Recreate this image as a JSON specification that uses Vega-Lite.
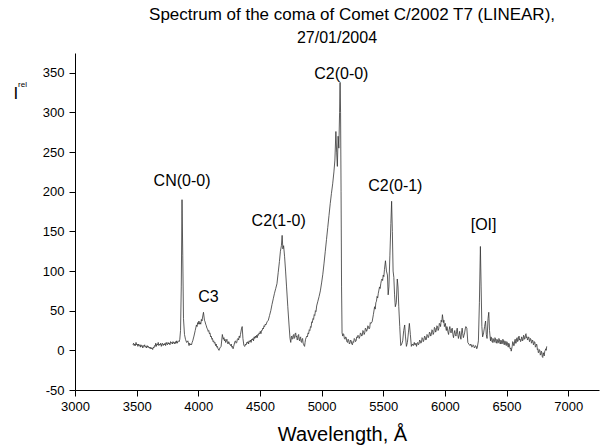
{
  "$schema": "https://vega.github.io/schema/vega-lite/v6.json",
  "autosize": "none",
  "width": 524,
  "height": 337,
  "padding": {"left": 75, "top": 53, "right": 3, "bottom": 57},
  "background": "white",
  "config": {
    "view": {"stroke": null},
    "font": "Liberation Sans",
    "axis": {"grid": false, "domainColor": "black", "tickColor": "black", "labelColor": "black", "titleColor": "black", "labelFont": "Liberation Sans", "titleFont": "Liberation Sans", "titleFontWeight": "normal", "labelFontSize": 13, "domainWidth": 1, "tickWidth": 1}
  },
  "datasets": {
    "spec": [
      {"w":3470,"i":7},{"w":3475,"i":9},{"w":3480,"i":6},{"w":3485,"i":8},{"w":3490,"i":6},{"w":3495,"i":10},{"w":3500,"i":7},{"w":3505,"i":8},{"w":3510,"i":5},{"w":3515,"i":8},{"w":3520,"i":6},{"w":3525,"i":7},{"w":3530,"i":4},{"w":3535,"i":7},{"w":3540,"i":5},{"w":3545,"i":6},{"w":3550,"i":3},{"w":3555,"i":6},{"w":3560,"i":5},{"w":3565,"i":7},{"w":3570,"i":4},{"w":3575,"i":5},{"w":3580,"i":3},{"w":3585,"i":6},{"w":3590,"i":4},{"w":3595,"i":5},{"w":3600,"i":3},{"w":3605,"i":4},{"w":3610,"i":2},{"w":3615,"i":4},{"w":3620,"i":2},{"w":3625,"i":3},{"w":3630,"i":1},{"w":3635,"i":4},{"w":3640,"i":3},{"w":3645,"i":6},{"w":3650,"i":5},{"w":3655,"i":9},{"w":3660,"i":5},{"w":3665,"i":8},{"w":3670,"i":7},{"w":3675,"i":10},{"w":3680,"i":6},{"w":3685,"i":8},{"w":3690,"i":7},{"w":3695,"i":9},{"w":3700,"i":5},{"w":3705,"i":8},{"w":3710,"i":9},{"w":3715,"i":6},{"w":3720,"i":8},{"w":3725,"i":7},{"w":3730,"i":9},{"w":3735,"i":6},{"w":3740,"i":10},{"w":3745,"i":8},{"w":3750,"i":7},{"w":3755,"i":10},{"w":3760,"i":8},{"w":3765,"i":9},{"w":3770,"i":7},{"w":3775,"i":11},{"w":3780,"i":9},{"w":3785,"i":10},{"w":3790,"i":8},{"w":3795,"i":11},{"w":3800,"i":9},{"w":3805,"i":10},{"w":3810,"i":8},{"w":3815,"i":11},{"w":3820,"i":9},{"w":3825,"i":12},{"w":3830,"i":9},{"w":3835,"i":11},{"w":3840,"i":12},{"w":3845,"i":11},{"w":3850,"i":14},{"w":3856,"i":25},{"w":3862,"i":80},{"w":3868,"i":190},{"w":3874,"i":120},{"w":3880,"i":40},{"w":3888,"i":20},{"w":3896,"i":14},{"w":3905,"i":10},{"w":3915,"i":12},{"w":3925,"i":6},{"w":3930,"i":9},{"w":3935,"i":7},{"w":3940,"i":8},{"w":3945,"i":7},{"w":3950,"i":10},{"w":3955,"i":12},{"w":3965,"i":18},{"w":3975,"i":25},{"w":3985,"i":32},{"w":3990,"i":30},{"w":3995,"i":35},{"w":4000,"i":33},{"w":4005,"i":37},{"w":4010,"i":33},{"w":4015,"i":35},{"w":4020,"i":33},{"w":4025,"i":39},{"w":4030,"i":37},{"w":4035,"i":42},{"w":4042,"i":48},{"w":4050,"i":38},{"w":4055,"i":36},{"w":4060,"i":33},{"w":4065,"i":31},{"w":4070,"i":28},{"w":4075,"i":27},{"w":4080,"i":24},{"w":4085,"i":25},{"w":4090,"i":21},{"w":4095,"i":22},{"w":4100,"i":17},{"w":4105,"i":18},{"w":4110,"i":14},{"w":4115,"i":15},{"w":4120,"i":11},{"w":4125,"i":12},{"w":4130,"i":9},{"w":4135,"i":10},{"w":4140,"i":6},{"w":4145,"i":8},{"w":4150,"i":4},{"w":4155,"i":5},{"w":4160,"i":2},{"w":4168,"i":0},{"w":4175,"i":3},{"w":4185,"i":5},{"w":4195,"i":20},{"w":4203,"i":14},{"w":4208,"i":16},{"w":4212,"i":12},{"w":4217,"i":14},{"w":4222,"i":10},{"w":4227,"i":12},{"w":4232,"i":14},{"w":4237,"i":9},{"w":4242,"i":8},{"w":4247,"i":11},{"w":4252,"i":9},{"w":4257,"i":7},{"w":4262,"i":6},{"w":4267,"i":8},{"w":4272,"i":4},{"w":4277,"i":5},{"w":4282,"i":2},{"w":4287,"i":5},{"w":4292,"i":8},{"w":4297,"i":11},{"w":4302,"i":12},{"w":4307,"i":9},{"w":4312,"i":10},{"w":4317,"i":14},{"w":4322,"i":15},{"w":4327,"i":13},{"w":4332,"i":18},{"w":4337,"i":16},{"w":4342,"i":20},{"w":4350,"i":27},{"w":4356,"i":30},{"w":4362,"i":15},{"w":4370,"i":6},{"w":4378,"i":5},{"w":4383,"i":8},{"w":4388,"i":7},{"w":4393,"i":10},{"w":4398,"i":9},{"w":4403,"i":11},{"w":4408,"i":8},{"w":4413,"i":12},{"w":4418,"i":11},{"w":4423,"i":13},{"w":4428,"i":10},{"w":4433,"i":14},{"w":4438,"i":13},{"w":4443,"i":15},{"w":4448,"i":12},{"w":4453,"i":17},{"w":4458,"i":15},{"w":4463,"i":18},{"w":4468,"i":16},{"w":4473,"i":19},{"w":4478,"i":16},{"w":4483,"i":20},{"w":4488,"i":19},{"w":4493,"i":22},{"w":4498,"i":21},{"w":4503,"i":24},{"w":4508,"i":21},{"w":4513,"i":25},{"w":4518,"i":25},{"w":4523,"i":28},{"w":4528,"i":27},{"w":4533,"i":31},{"w":4538,"i":30},{"w":4543,"i":33},{"w":4548,"i":32},{"w":4558,"i":36},{"w":4568,"i":38},{"w":4578,"i":44},{"w":4588,"i":50},{"w":4598,"i":58},{"w":4608,"i":65},{"w":4618,"i":72},{"w":4628,"i":78},{"w":4638,"i":84},{"w":4648,"i":98},{"w":4658,"i":112},{"w":4666,"i":125},{"w":4674,"i":132},{"w":4680,"i":145},{"w":4686,"i":128},{"w":4692,"i":132},{"w":4700,"i":118},{"w":4708,"i":100},{"w":4716,"i":80},{"w":4726,"i":55},{"w":4736,"i":32},{"w":4744,"i":15},{"w":4750,"i":10},{"w":4754,"i":16},{"w":4758,"i":18},{"w":4762,"i":14},{"w":4766,"i":15},{"w":4770,"i":19},{"w":4774,"i":20},{"w":4778,"i":15},{"w":4782,"i":16},{"w":4786,"i":21},{"w":4790,"i":22},{"w":4794,"i":17},{"w":4798,"i":18},{"w":4802,"i":13},{"w":4806,"i":14},{"w":4810,"i":19},{"w":4814,"i":20},{"w":4818,"i":13},{"w":4822,"i":12},{"w":4826,"i":16},{"w":4830,"i":17},{"w":4834,"i":11},{"w":4838,"i":10},{"w":4842,"i":14},{"w":4846,"i":15},{"w":4850,"i":9},{"w":4854,"i":8},{"w":4858,"i":6},{"w":4862,"i":5},{"w":4866,"i":10},{"w":4870,"i":14},{"w":4875,"i":16},{"w":4880,"i":18},{"w":4885,"i":17},{"w":4890,"i":22},{"w":4895,"i":21},{"w":4900,"i":26},{"w":4905,"i":25},{"w":4910,"i":30},{"w":4915,"i":29},{"w":4920,"i":36},{"w":4925,"i":35},{"w":4930,"i":40},{"w":4935,"i":39},{"w":4940,"i":45},{"w":4945,"i":44},{"w":4950,"i":50},{"w":4955,"i":49},{"w":4960,"i":56},{"w":4970,"i":62},{"w":4980,"i":68},{"w":4990,"i":75},{"w":5000,"i":85},{"w":5010,"i":96},{"w":5020,"i":110},{"w":5030,"i":125},{"w":5040,"i":140},{"w":5050,"i":155},{"w":5060,"i":170},{"w":5070,"i":185},{"w":5080,"i":198},{"w":5090,"i":210},{"w":5100,"i":225},{"w":5108,"i":240},{"w":5116,"i":276},{"w":5122,"i":250},{"w":5128,"i":232},{"w":5134,"i":270},{"w":5140,"i":255},{"w":5146,"i":300},{"w":5150,"i":338},{"w":5154,"i":300},{"w":5158,"i":200},{"w":5162,"i":80},{"w":5166,"i":22},{"w":5172,"i":18},{"w":5176,"i":21},{"w":5180,"i":20},{"w":5185,"i":15},{"w":5190,"i":14},{"w":5195,"i":17},{"w":5200,"i":16},{"w":5205,"i":11},{"w":5210,"i":10},{"w":5215,"i":14},{"w":5220,"i":13},{"w":5225,"i":8},{"w":5230,"i":9},{"w":5235,"i":13},{"w":5240,"i":12},{"w":5245,"i":8},{"w":5250,"i":7},{"w":5255,"i":11},{"w":5260,"i":10},{"w":5265,"i":15},{"w":5270,"i":14},{"w":5275,"i":11},{"w":5280,"i":12},{"w":5285,"i":17},{"w":5290,"i":16},{"w":5295,"i":19},{"w":5300,"i":18},{"w":5305,"i":15},{"w":5310,"i":17},{"w":5315,"i":22},{"w":5320,"i":21},{"w":5325,"i":18},{"w":5330,"i":19},{"w":5335,"i":25},{"w":5340,"i":24},{"w":5345,"i":20},{"w":5350,"i":22},{"w":5355,"i":28},{"w":5360,"i":27},{"w":5365,"i":24},{"w":5370,"i":26},{"w":5375,"i":31},{"w":5380,"i":30},{"w":5385,"i":27},{"w":5390,"i":28},{"w":5395,"i":35},{"w":5400,"i":34},{"w":5410,"i":36},{"w":5420,"i":45},{"w":5430,"i":55},{"w":5435,"i":52},{"w":5440,"i":60},{"w":5445,"i":62},{"w":5450,"i":68},{"w":5455,"i":66},{"w":5460,"i":72},{"w":5465,"i":76},{"w":5470,"i":80},{"w":5475,"i":78},{"w":5480,"i":84},{"w":5485,"i":88},{"w":5490,"i":90},{"w":5495,"i":88},{"w":5500,"i":95},{"w":5505,"i":93},{"w":5510,"i":102},{"w":5518,"i":113},{"w":5526,"i":100},{"w":5534,"i":95},{"w":5540,"i":70},{"w":5546,"i":80},{"w":5554,"i":120},{"w":5562,"i":160},{"w":5568,"i":188},{"w":5574,"i":150},{"w":5580,"i":100},{"w":5586,"i":92},{"w":5592,"i":70},{"w":5598,"i":55},{"w":5606,"i":60},{"w":5614,"i":90},{"w":5620,"i":80},{"w":5626,"i":55},{"w":5634,"i":30},{"w":5642,"i":6},{"w":5650,"i":8},{"w":5658,"i":12},{"w":5666,"i":25},{"w":5674,"i":32},{"w":5680,"i":18},{"w":5688,"i":5},{"w":5696,"i":10},{"w":5704,"i":22},{"w":5712,"i":34},{"w":5720,"i":20},{"w":5728,"i":5},{"w":5736,"i":8},{"w":5744,"i":6},{"w":5752,"i":10},{"w":5756,"i":7},{"w":5760,"i":7},{"w":5765,"i":9},{"w":5770,"i":5},{"w":5775,"i":9},{"w":5780,"i":10},{"w":5785,"i":7},{"w":5790,"i":8},{"w":5795,"i":13},{"w":5800,"i":12},{"w":5805,"i":9},{"w":5810,"i":10},{"w":5815,"i":16},{"w":5820,"i":15},{"w":5825,"i":11},{"w":5830,"i":13},{"w":5835,"i":18},{"w":5840,"i":17},{"w":5845,"i":13},{"w":5850,"i":14},{"w":5855,"i":20},{"w":5860,"i":19},{"w":5865,"i":16},{"w":5870,"i":18},{"w":5875,"i":23},{"w":5880,"i":22},{"w":5885,"i":18},{"w":5890,"i":20},{"w":5895,"i":26},{"w":5900,"i":25},{"w":5905,"i":20},{"w":5910,"i":22},{"w":5915,"i":29},{"w":5920,"i":28},{"w":5925,"i":23},{"w":5930,"i":25},{"w":5935,"i":31},{"w":5940,"i":30},{"w":5945,"i":25},{"w":5950,"i":27},{"w":5955,"i":34},{"w":5960,"i":33},{"w":5965,"i":30},{"w":5970,"i":38},{"w":5975,"i":36},{"w":5980,"i":45},{"w":5984,"i":40},{"w":5988,"i":35},{"w":5992,"i":38},{"w":5996,"i":30},{"w":6000,"i":32},{"w":6004,"i":34},{"w":6008,"i":28},{"w":6012,"i":25},{"w":6016,"i":30},{"w":6020,"i":28},{"w":6025,"i":23},{"w":6030,"i":20},{"w":6035,"i":26},{"w":6040,"i":30},{"w":6045,"i":25},{"w":6050,"i":22},{"w":6055,"i":27},{"w":6060,"i":28},{"w":6065,"i":20},{"w":6070,"i":16},{"w":6075,"i":21},{"w":6080,"i":25},{"w":6085,"i":20},{"w":6090,"i":18},{"w":6095,"i":24},{"w":6100,"i":28},{"w":6105,"i":20},{"w":6110,"i":15},{"w":6115,"i":19},{"w":6120,"i":24},{"w":6125,"i":18},{"w":6130,"i":14},{"w":6135,"i":22},{"w":6140,"i":28},{"w":6145,"i":21},{"w":6150,"i":16},{"w":6155,"i":19},{"w":6160,"i":22},{"w":6165,"i":27},{"w":6170,"i":30},{"w":6178,"i":28},{"w":6186,"i":10},{"w":6194,"i":8},{"w":6199,"i":7},{"w":6204,"i":6},{"w":6209,"i":8},{"w":6214,"i":7},{"w":6219,"i":4},{"w":6224,"i":5},{"w":6229,"i":7},{"w":6234,"i":6},{"w":6239,"i":3},{"w":6244,"i":4},{"w":6249,"i":6},{"w":6254,"i":5},{"w":6258,"i":2},{"w":6262,"i":3},{"w":6272,"i":12},{"w":6280,"i":60},{"w":6288,"i":131},{"w":6294,"i":80},{"w":6300,"i":30},{"w":6306,"i":17},{"w":6314,"i":22},{"w":6322,"i":30},{"w":6330,"i":37},{"w":6336,"i":20},{"w":6342,"i":15},{"w":6350,"i":40},{"w":6356,"i":48},{"w":6362,"i":25},{"w":6370,"i":12},{"w":6374,"i":17},{"w":6378,"i":16},{"w":6382,"i":11},{"w":6386,"i":10},{"w":6390,"i":15},{"w":6394,"i":14},{"w":6398,"i":10},{"w":6402,"i":11},{"w":6406,"i":16},{"w":6410,"i":15},{"w":6414,"i":10},{"w":6418,"i":9},{"w":6422,"i":14},{"w":6426,"i":13},{"w":6430,"i":9},{"w":6434,"i":10},{"w":6438,"i":15},{"w":6442,"i":14},{"w":6446,"i":9},{"w":6450,"i":8},{"w":6454,"i":13},{"w":6458,"i":12},{"w":6462,"i":8},{"w":6466,"i":9},{"w":6470,"i":14},{"w":6474,"i":13},{"w":6478,"i":8},{"w":6482,"i":7},{"w":6486,"i":12},{"w":6490,"i":11},{"w":6494,"i":7},{"w":6498,"i":6},{"w":6502,"i":11},{"w":6506,"i":10},{"w":6510,"i":6},{"w":6514,"i":4},{"w":6518,"i":9},{"w":6522,"i":8},{"w":6526,"i":4},{"w":6530,"i":2},{"w":6534,"i":3},{"w":6538,"i":-1},{"w":6542,"i":2},{"w":6546,"i":5},{"w":6550,"i":11},{"w":6554,"i":10},{"w":6558,"i":6},{"w":6562,"i":6},{"w":6566,"i":12},{"w":6570,"i":14},{"w":6574,"i":9},{"w":6578,"i":9},{"w":6582,"i":15},{"w":6586,"i":16},{"w":6590,"i":11},{"w":6594,"i":12},{"w":6598,"i":17},{"w":6602,"i":18},{"w":6606,"i":13},{"w":6610,"i":14},{"w":6614,"i":11},{"w":6618,"i":12},{"w":6622,"i":17},{"w":6626,"i":16},{"w":6630,"i":12},{"w":6634,"i":13},{"w":6638,"i":19},{"w":6642,"i":18},{"w":6646,"i":14},{"w":6650,"i":15},{"w":6654,"i":20},{"w":6658,"i":21},{"w":6662,"i":16},{"w":6666,"i":17},{"w":6670,"i":13},{"w":6674,"i":14},{"w":6678,"i":17},{"w":6682,"i":16},{"w":6686,"i":11},{"w":6690,"i":12},{"w":6694,"i":15},{"w":6698,"i":14},{"w":6702,"i":9},{"w":6706,"i":10},{"w":6710,"i":13},{"w":6714,"i":12},{"w":6718,"i":7},{"w":6722,"i":8},{"w":6726,"i":11},{"w":6730,"i":10},{"w":6734,"i":4},{"w":6738,"i":5},{"w":6742,"i":8},{"w":6746,"i":7},{"w":6750,"i":1},{"w":6754,"i":2},{"w":6758,"i":-3},{"w":6762,"i":-2},{"w":6766,"i":1},{"w":6770,"i":0},{"w":6774,"i":-6},{"w":6778,"i":-5},{"w":6782,"i":-1},{"w":6786,"i":-3},{"w":6790,"i":-8},{"w":6794,"i":-9},{"w":6798,"i":-3},{"w":6802,"i":-5},{"w":6806,"i":-7},{"w":6810,"i":-1},{"w":6814,"i":0},{"w":6818,"i":2},{"w":6822,"i":0},{"w":6826,"i":5}
    ],
    "labels": [
      {"w": 3868, "i": 214, "t": "CN(0-0)"},
      {"w": 4082, "i": 67, "t": "C3"},
      {"w": 4652, "i": 163, "t": "C2(1-0)"},
      {"w": 5160, "i": 349, "t": "C2(0-0)"},
      {"w": 5598, "i": 207, "t": "C2(0-1)"},
      {"w": 6314, "i": 158, "t": "[OI]"}
    ],
    "heading": [
      {"w": 5247, "i": 416, "t": "Spectrum of the coma of Comet C/2002 T7 (LINEAR),", "s": 17},
      {"w": 5125, "i": 387, "t": "27/01/2004", "s": 16}
    ],
    "sup": [
      {"w": 2538, "i": 332, "t": "rel"}
    ]
  },
  "layer": [
    {
      "data": {"name": "spec"},
      "mark": {"type": "line", "color": "#333333", "strokeWidth": 0.8, "clip": true},
      "encoding": {
        "x": {
          "field": "w", "type": "quantitative",
          "scale": {"domain": [3000, 7250], "nice": false, "zero": false},
          "axis": {
            "title": "Wavelength, Å",
            "titleFontSize": 20,
            "titleX": 267,
            "titleAlign": "center",
            "titleY": 50,
            "titleBaseline": "alphabetic",
            "values": [3000,3250,3500,3750,4000,4250,4500,4750,5000,5250,5500,5750,6000,6250,6500,6750,7000,7250],
            "labelExpr": "datum.value % 500 === 0 ? datum.value : ''",
            "tickSize": {"expr": "datum.value % 500 === 0 ? 6 : 3"},
            "labelPadding": 4,
            "labelFlush": false,
            "labelOverlap": false
          }
        },
        "y": {
          "field": "i", "type": "quantitative",
          "scale": {"domain": [-50, 375], "nice": false, "zero": false},
          "axis": {
            "title": "I",
            "titleAngle": 0,
            "titleFontSize": 17,
            "titleAlign": "left",
            "titleBaseline": "alphabetic",
            "titleX": -62,
            "titleY": 45,
            "values": [-50,-25,0,25,50,75,100,125,150,175,200,225,250,275,300,325,350,375],
            "labelExpr": "datum.value % 50 === 0 ? datum.value : ''",
            "tickSize": {"expr": "datum.value % 50 === 0 ? 6 : 3"},
            "labelPadding": 5,
            "labelFlush": false,
            "labelOverlap": false
          }
        }
      }
    },
    {
      "data": {"name": "labels"},
      "mark": {"type": "text", "font": "Liberation Sans", "fontSize": 16, "color": "black", "align": "center", "baseline": "middle"},
      "encoding": {
        "x": {"field": "w", "type": "quantitative"},
        "y": {"field": "i", "type": "quantitative"},
        "text": {"field": "t"}
      }
    },
    {
      "data": {"name": "heading"},
      "mark": {"type": "text", "font": "Liberation Sans", "color": "black", "align": "center", "baseline": "alphabetic"},
      "encoding": {
        "x": {"field": "w", "type": "quantitative"},
        "y": {"field": "i", "type": "quantitative"},
        "text": {"field": "t"},
        "size": {"field": "s", "type": "quantitative", "scale": null}
      }
    },
    {
      "data": {"name": "sup"},
      "mark": {"type": "text", "font": "Liberation Sans", "fontSize": 8, "color": "black", "align": "left", "baseline": "alphabetic"},
      "encoding": {
        "x": {"field": "w", "type": "quantitative"},
        "y": {"field": "i", "type": "quantitative"},
        "text": {"field": "t"}
      }
    }
  ]
}
